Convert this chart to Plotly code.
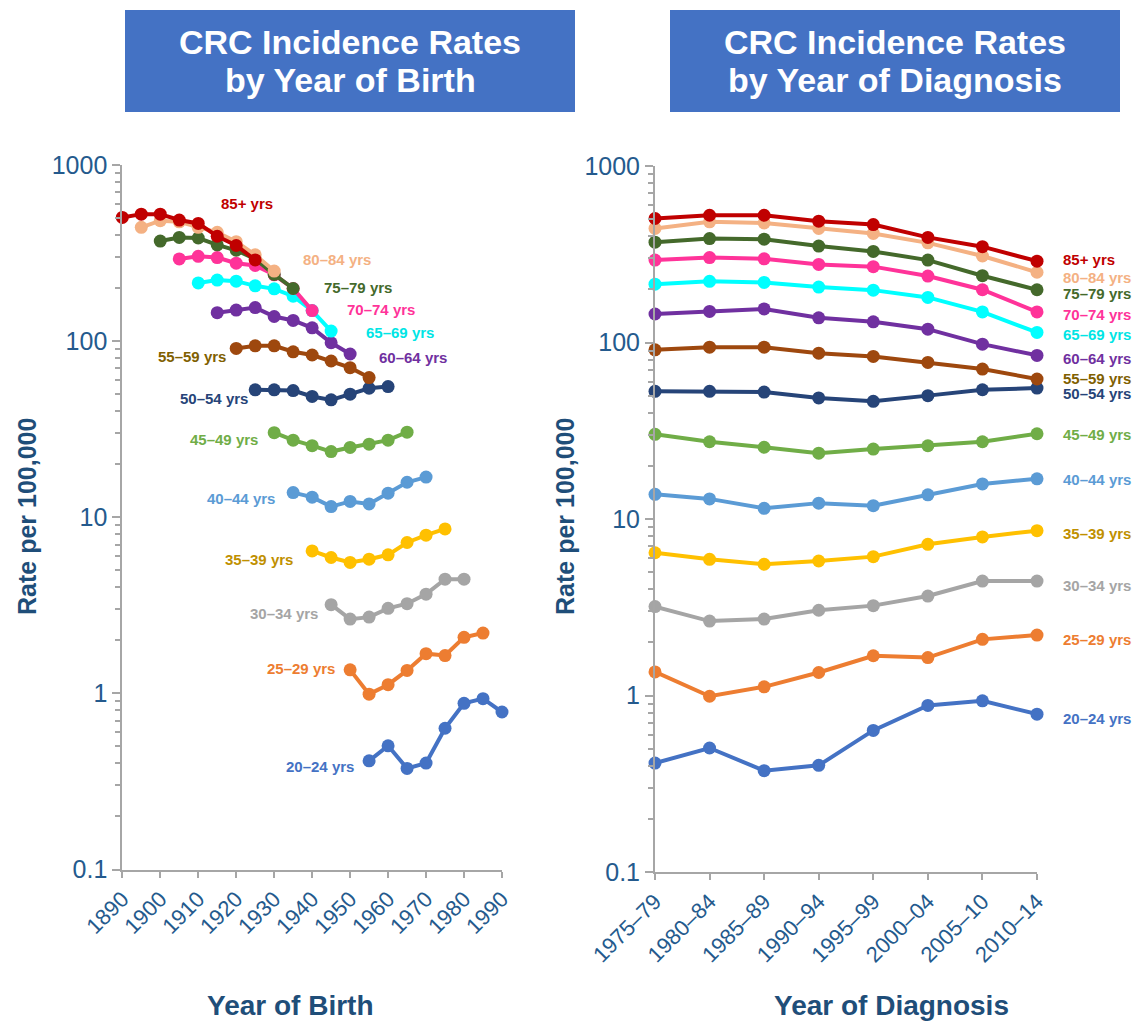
import plotly.graph_objects as go

# Diagnosis periods (5-year bands) and their start years
periods = ["1975–79", "1980–84", "1985–89", "1990–94", "1995–99", "2000–04", "2005–10", "2010–14"]
period_start = [1975, 1980, 1985, 1990, 1995, 2000, 2005, 2010]

# Age groups, oldest first, with the first year of each band
age_groups = ["85+ yrs", "80–84 yrs", "75–79 yrs", "70–74 yrs", "65–69 yrs", "60–64 yrs", "55–59 yrs",
              "50–54 yrs", "45–49 yrs", "40–44 yrs", "35–39 yrs", "30–34 yrs", "25–29 yrs", "20–24 yrs"]
age_start = [85, 80, 75, 70, 65, 60, 55, 50, 45, 40, 35, 30, 25, 20]

# Colorectal cancer incidence per 100,000, one list per age group, by diagnosis period
rate_85 = [504, 526, 526, 487, 466, 394, 349, 289]
rate_80 = [443, 483, 476, 443, 415, 367, 309, 250]
rate_75 = [370, 388, 385, 352, 328, 293, 239, 199]
rate_70 = [293, 303, 298, 277, 269, 238, 199, 149]
rate_65 = [214, 222, 219, 206, 198, 180, 149, 114]
rate_60 = [145, 150, 155, 138, 131, 119, 97.9, 84.5]
rate_55 = [90.9, 94.1, 94.1, 87.0, 83.4, 77.1, 70.7, 62.1]
rate_50 = [52.9, 52.9, 52.4, 48.5, 46.4, 50.0, 54.0, 55.2]
rate_45 = [30.2, 27.4, 25.5, 23.6, 24.9, 26.0, 27.4, 30.4]
rate_40 = [13.8, 13.0, 11.5, 12.3, 11.9, 13.7, 15.8, 16.9]
rate_35 = [6.44, 5.91, 5.54, 5.78, 6.12, 7.19, 7.91, 8.59]
rate_30 = [3.19, 2.64, 2.71, 3.04, 3.23, 3.66, 4.45, 4.45]
rate_25 = [1.36, 0.99, 1.12, 1.35, 1.68, 1.64, 2.08, 2.20]
rate_20 = [0.414, 0.504, 0.375, 0.402, 0.634, 0.878, 0.933, 0.784]

rates = [rate_85, rate_80, rate_75, rate_70, rate_65, rate_60, rate_55,
         rate_50, rate_45, rate_40, rate_35, rate_30, rate_25, rate_20]

line_colors = ["#C00000", "#F4B183", "#44692B", "#FF3399", "#00FFFF", "#7030A0", "#9E480E",
               "#264478", "#70AD47", "#5B9BD5", "#FFC000", "#A5A5A5", "#ED7D31", "#4472C4"]
label_colors = ["#C00000", "#F4B183", "#44692B", "#FF3399", "#00E5E5", "#7030A0", "#7F6000",
                "#264478", "#70AD47", "#5B9BD5", "#BF9000", "#A5A5A5", "#ED7D31", "#4472C4"]

# Label anchor positions: birth-cohort panel (year, log10 rate) and diagnosis panel (log10 rate)
birth_label_x = [1922.8, 1946.5, 1952.1, 1958.1, 1963.1, 1966.6, 1908.4,
                 1914.2, 1916.8, 1921.3, 1926.0, 1932.6, 1937.1, 1942.1]
birth_label_y = [2.784, 2.466, 2.307, 2.182, 2.051, 1.909, 1.915,
                 1.676, 1.443, 1.108, 0.761, 0.455, 0.142, -0.415]
diag_label_y = [2.471, 2.367, 2.279, 2.160, 2.047, 1.911, 1.796,
                1.712, 1.479, 1.221, 0.919, 0.623, 0.319, -0.128]

W, H = 1134, 1024
FONT = "Liberation Sans, Arial, sans-serif"
TICK_BLUE = "#245A8D"
TITLE_BLUE = "#1F4E79"
AXIS_GREY = "#A6A6A6"


def px_x(p):
    return p / W


def px_y(p):
    return 1 - p / H


fig = go.Figure()

# Draw youngest first so older cohorts sit on top
for i in reversed(range(len(age_groups))):
    birth_years = [ps - age_start[i] for ps in period_start]
    fig.add_trace(go.Scatter(
        x=birth_years, y=rates[i], mode="lines+markers", name=age_groups[i],
        line=dict(color=line_colors[i], width=4),
        marker=dict(color=line_colors[i], size=13),
        cliponaxis=False, xaxis="x", yaxis="y", showlegend=False))
    fig.add_trace(go.Scatter(
        x=list(range(len(periods))), y=rates[i], mode="lines+markers", name=age_groups[i],
        line=dict(color=line_colors[i], width=4),
        marker=dict(color=line_colors[i], size=13),
        cliponaxis=False, xaxis="x2", yaxis="y2", showlegend=False))

major_vals = [0.1, 1, 10, 100, 1000]
major_text = ["0.1", "1", "10", "100", "1000"]
minor_vals = [m * d for d in [0.1, 1, 10, 100] for m in range(2, 10)]

yaxis_common = dict(
    type="log", range=[-1, 3], tickmode="array", tickvals=major_vals, ticktext=major_text,
    ticks="outside", ticklen=8, tickwidth=2, tickcolor=AXIS_GREY,
    showline=True, linecolor=AXIS_GREY, linewidth=2, showgrid=False, zeroline=False,
    tickfont=dict(family=FONT, size=25, color=TICK_BLUE),
    minor=dict(tickmode="array", tickvals=minor_vals, ticks="outside", ticklen=5,
               tickwidth=1.5, tickcolor=AXIS_GREY, showgrid=False),
    automargin=False, fixedrange=True,
)

xaxis_common = dict(
    ticks="outside", ticklen=6, tickwidth=2, tickcolor=AXIS_GREY, tickangle=-45,
    showline=True, linecolor=AXIS_GREY, linewidth=2, showgrid=False, zeroline=False,
    tickfont=dict(family=FONT, size=22, color=TICK_BLUE),
    automargin=False, fixedrange=True,
)

fig.update_layout(
    width=W, height=H, autosize=False,
    margin=dict(l=0, r=0, t=0, b=0, pad=0, autoexpand=False),
    showlegend=False,
    paper_bgcolor="white", plot_bgcolor="white",
    xaxis=dict(
        domain=[px_x(122.3), px_x(502)], range=[1890, 1990], anchor="y",
        tickmode="array", tickvals=list(range(1890, 1991, 10)), **xaxis_common,
    ),
    yaxis=dict(domain=[px_y(869.5), px_y(165)], anchor="x", **yaxis_common),
    xaxis2=dict(
        domain=[px_x(655), px_x(1037)], range=[0, len(periods) - 1], anchor="y2",
        tickmode="array", tickvals=list(range(len(periods))), ticktext=periods, **xaxis_common,
    ),
    yaxis2=dict(domain=[px_y(872), px_y(166)], anchor="x2", **yaxis_common),
)

annotations = []

# Series labels
for i, name in enumerate(age_groups):
    annotations.append(dict(
        x=birth_label_x[i], y=birth_label_y[i], xref="x", yref="y",
        text=f"<b>{name}</b>", showarrow=False, xanchor="center", yanchor="middle",
        font=dict(family=FONT, size=15, color=label_colors[i])))
    annotations.append(dict(
        x=px_x(1061), y=diag_label_y[i], xref="paper", yref="y2",
        text=f"<b>{name}</b>", showarrow=False, xanchor="left", yanchor="middle",
        font=dict(family=FONT, size=15, color=label_colors[i])))

# Panel headers in blue boxes
shapes = []
for x0, x1, line1, line2 in [(125, 575, "CRC Incidence Rates", "by Year of Birth"),
                              (670, 1120, "CRC Incidence Rates", "by Year of Diagnosis")]:
    shapes.append(dict(type="rect", xref="paper", yref="paper",
                       x0=px_x(x0), x1=px_x(x1), y0=px_y(112), y1=px_y(10),
                       fillcolor="#4472C4", line=dict(width=0), layer="below"))
    for text, yc in [(line1, 42), (line2, 80)]:
        annotations.append(dict(
            x=px_x((x0 + x1) / 2), y=px_y(yc), xref="paper", yref="paper",
            text=f"<b>{text}</b>", showarrow=False, xanchor="center", yanchor="middle",
            font=dict(family=FONT, size=34, color="white")))

# Axis titles
for xc in [27, 565]:
    annotations.append(dict(
        x=px_x(xc), y=px_y(517), xref="paper", yref="paper",
        text="<b>Rate per 100,000</b>", showarrow=False, textangle=-90,
        xanchor="center", yanchor="middle",
        font=dict(family=FONT, size=25, color=TITLE_BLUE)))
for xc, text in [(290, "Year of Birth"), (891, "Year of Diagnosis")]:
    annotations.append(dict(
        x=px_x(xc), y=px_y(1005), xref="paper", yref="paper",
        text=f"<b>{text}</b>", showarrow=False, xanchor="center", yanchor="middle",
        font=dict(family=FONT, size=28, color=TITLE_BLUE)))

fig.update_layout(annotations=annotations, shapes=shapes)

fig.write_html("out.html")
